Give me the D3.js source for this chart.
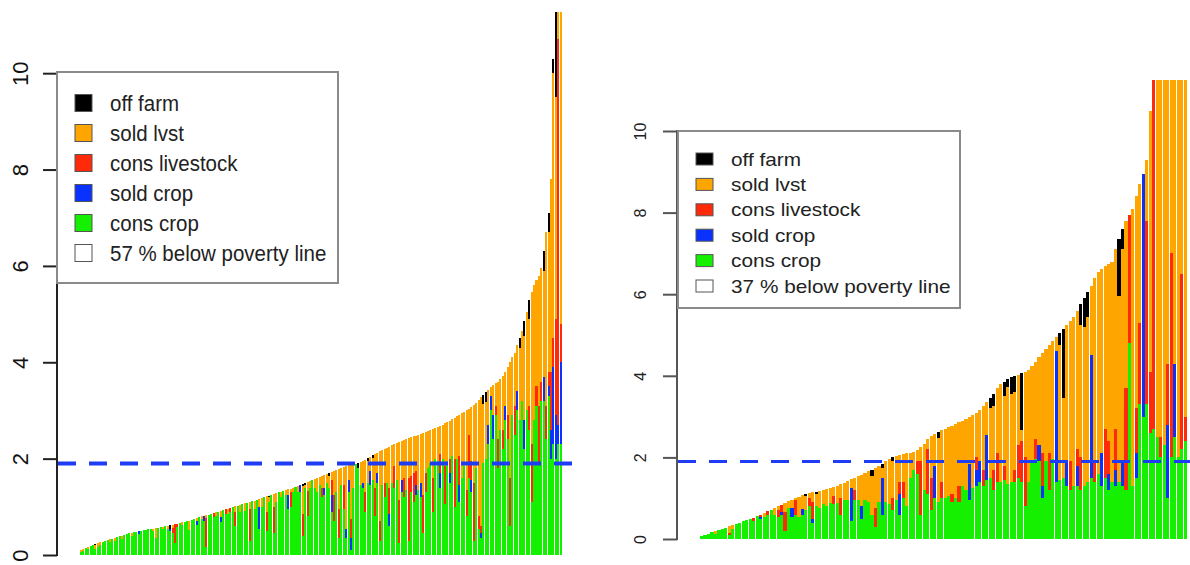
<!DOCTYPE html>
<html>
<head>
<meta charset="utf-8">
<script src="https://cdn.jsdelivr.net/npm/d3@7"></script>
<style>
  body { margin: 0; background: #fff; }
  svg { display: block; font-family: "Liberation Sans", Arial, sans-serif; }
</style>
</head>
<body>
<svg id="chart" width="1190" height="565"></svg>
<script>
// ---- left panel (57 % below poverty line), one value per household, sorted by total
var leftConsCrop = [
  .06,.08,.14,.12,.18,.20,.12,.16,.20,.28, .30,.31,.27,.34,.30,.37,.39,.34,.42,.43,
  .45,.40,.47,.48,.44,.50,.51,.52,.53,.54, .50,.35,.57,.58,.54,.60,.55,.50,.45,.25,
  .58,.66,.62,.69,.70,.52,.73,.74,.62,.78, .74,.70,.17,.84,.86,.78,.80,.90,.68,.93,
  .85,.86,.90,.99,.60,1.02,.90,1.05,.92,1.08, .30,1.12,.95,1.15,.55,1.00,1.20,.50,1.10,1.25,
  .45,1.10,1.30,1.20,1.33,1.25,.95,1.00,1.30,1.42, 1.30,1.30,.40,1.40,.80,1.40,1.56,1.40,1.30,1.45,
  1.20,1.25,1.50,1.40,.90,.70,1.30,.35,1.45,.95, .35,1.30,.10,1.40,1.89,1.80,1.45,1.40,.90,1.50,
  1.45,1.55,.80,1.50,.30,1.45,1.20,1.50,.60,1.50, 1.40,1.55,.25,1.30,1.20,1.35,.30,1.30,1.10,1.25,
  1.35,1.20,.45,1.30,1.80,1.90,.90,2.00,1.95,1.40, 2.00,1.05,1.95,1.50,2.05,1.00,2.00,1.10,1.60,1.85,
  .80,1.60,1.30,.30,1.80,.55,.35,1.90,2.00,2.30, 3.00,2.40,2.90,1.80,2.60,2.20,2.80,2.40,.60,2.90,
  2.50,3.00,2.80,3.20,2.20,3.00,2.60,1.10,2.80,3.10, 1.90,3.20,3.20,2.40,3.30,2.00,2.30,2.00,2.30,2.30
];
var leftSoldCrop = [
  0,0,0,0,0,0,0,0,0,0, 0,0,0,0,0,0,0,0,0,0,
  0,0,0,0,.05,0,0,0,0,0, 0,0,0,0,0,0,0,.05,0,0,
  0,0,0,0,0,0,0,0,.08,0, 0,.11,0,0,0,0,0,0,.10,0,
  0,0,0,0,0,0,0,0,0,0, 0,0,0,0,.45,0,0,0,0,0,
  0,0,0,0,0,0,.30,0,0,0, 0,.16,0,0,0,0,0,0,0,0,
  0,.15,0,0,.35,0,0,0,0,0, .20,.25,.25,0,0,0,0,.10,0,0,
  .30,0,0,.20,0,0,0,0,.25,0, 0,0,0,.25,0,0,0,0,0,.20,
  0,.30,0,0,0,0,0,0,0,.30, 0,0,0,.20,0,0,0,.35,0,0,
  0,0,.25,0,0,0,.10,0,0,.40, .30,.50,0,0,0,0,.30,0,0,0,
  0,.40,0,0,.60,0,0,0,0,0, 0,0,.50,0,.20,.60,1.60,.90,.40,1.70
];
var leftConsLvst = [
  0,0,0,0,0,0,0,0,0,0, 0,0,0,0,0,0,0,0,0,0,
  0,0,0,0,0,0,0,0,0,0, 0,0,0,0,0,0,0,0,.12,.39,
  .07,0,0,0,0,0,0,0,0,0, 0,0,.60,0,0,.09,0,0,0,0,
  .10,0,.08,0,.30,0,0,0,0,0, .65,0,0,0,0,0,0,.40,0,0,
  .55,0,0,0,0,0,0,.30,0,0, 0,0,.45,0,.52,0,0,0,0,0,
  .20,0,0,0,.30,.55,0,.60,0,.50, 0,0,.40,0,0,0,0,0,.40,0,
  0,0,.60,0,.40,0,.30,0,.55,0, .45,0,.90,0,.40,0,1.30,.35,.60,.30,
  0,0,.80,.40,0,0,.70,0,0,.40, 0,.80,0,.30,0,1.00,0,.60,0,0,
  .55,.90,.40,1.20,0,.25,.15,0,0,0, 0,0,.20,.60,0,.40,0,.50,1.00,0,
  .60,0,0,0,0,0,.50,1.20,0,.40, 1.20,.40,0,.70,.30,1.20,.60,2.00,8.00,.80
];
var leftSoldLvst = [
  .04,.04,0,.04,0,0,.08,.08,.06,0, 0,0,.06,0,.06,0,0,.06,0,0,
  0,.06,0,0,0,0,0,0,0,0, .05,.21,0,0,.05,0,.06,0,.06,0,
  0,0,.06,0,0,.19,0,0,.06,0, .06,0,.06,0,0,0,.09,0,.14,0,
  0,.10,0,0,.11,0,.14,0,.15,0, .15,0,.18,0,.17,.18,0,.32,.10,0,
  .27,.18,0,.11,0,.10,.11,.08,.10,0, .14,0,.58,.05,.20,.14,0,.18,.30,.17,
  .24,.26,.18,.25,.17,.49,.46,.83,.35,.37, 1.29,.31,1.12,.48,0,0,.48,.45,.68,.45,
  .29,.46,.70,.42,1.45,.73,.70,.73,.85,.78, .45,.77,1.19,.81,.78,1.05,.82,.79,.76,.73,
  1.15,1.02,1.29,.86,.78,.70,1.02,.64,.71,.58, .70,.88,.81,.79,.77,.85,.88,.86,1.34,1.12,
  1.65,.54,1.13,1.62,1.36,2.42,2.68,1.23,1.18,.73, .18,.62,.46,1.20,1.05,1.12,.70,1.00,2.40,1.20,
  1.10,.95,1.50,1.45,1.75,2.05,1.80,3.15,2.80,2.20, 2.70,2.35,2.20,3.60,2.90,4.00,5.50,4.60,1.80,8.00
];
var leftOffFarm = [
  0,0,0,0,0,0,.02,0,0,0, 0,0,0,0,0,0,0,0,0,0,
  0,0,0,0,0,0,0,0,0,0, 0,0,0,0,0,0,0,.07,0,0,
  0,0,0,0,0,0,0,0,0,0, 0,0,0,0,0,0,0,0,0,0,
  0,0,0,0,0,0,0,0,0,0, 0,0,0,0,0,0,0,0,.03,0,
  0,0,0,0,0,0,0,0,0,0, 0,0,.05,.05,0,0,0,0,0,0,
  0,0,0,.05,0,0,0,0,0,0, 0,0,0,0,0,.11,0,0,0,.06,
  0,.06,0,0,0,0,0,0,0,0, 0,0,0,0,0,0,0,0,0,0,
  0,0,0,0,0,0,0,0,0,0, 0,0,0,0,0,0,0,0,0,0,
  0,0,0,0,0,0,0,.20,.20,0, 0,0,0,0,0,0,0,0,0,0,
  0,0,.20,0,.30,0,.40,0,0,0, 0,0,.40,0,.40,0,.30,2.50,0,0
];

// ---- right panel (37 % below poverty line)
var rightConsCrop = [
  .08,.10,.13,.16,.12,.22,.25,.28,.10,.24, .37,.40,.43,.46,.49,.44,.56,.50,.55,.60,
  .72,.60,.55,.60,.20,.75,.55,.60,.55,.58, .70,.80,.40,.80,.75,.85,.80,.88,.85,.88,
  .60,.95,.95,.45,.95,.95,.50,.95,.90,.60, .30,.90,.60,.90,.85,.70,.95,.60,1.00,.80,
  1.50,1.70,1.60,.60,1.20,1.10,.70,1.00,.90,1.00, 1.00,1.05,.90,1.00,.90,1.30,1.20,.95,1.25,1.30,
  1.40,1.30,1.45,1.50,1.20,1.40,1.40,1.45,1.35,1.40, 1.40,1.50,1.40,.80,1.40,1.90,1.95,1.90,1.00,1.90,
  1.20,1.95,1.40,1.45,1.50,1.30,1.20,1.30,1.30,1.20, 1.30,1.40,1.50,1.40,1.60,1.30,1.50,1.20,1.40,1.30,
  1.40,1.30,1.20,4.80,1.30,1.50,3.30,3.00,3.30,2.60, 2.70,2.50,2.00,2.30,1.00,2.00,2.50,2.00,2.20,2.40
];
var rightSoldCrop = [
  0,0,0,0,0,0,0,0,0,0, 0,0,0,0,0,0,0,.04,0,0,
  0,0,0,.06,0,0,.20,0,0,.15, 0,0,.10,0,0,0,0,0,0,0,
  0,0,0,.80,0,0,.30,0,0,0, 0,0,.90,0,0,0,0,.50,0,0,
  0,0,0,0,0,0,0,.80,0,0, 0,0,0,0,0,0,0,.90,0,.40,
  .50,0,1.10,0,0,0,0,0,0,0, 0,0,0,0,0,0,0,.40,.30,0,
  0,0,3.20,0,0,.60,0,0,.50,0, 0,0,3.00,0,0,.80,0,.40,0,.40,
  0,.60,0,0,0,.60,0,5.95,0,0, 0,0,0,0,1.80,0,1.80,0,0,0
];
var rightConsLvst = [
  0,0,0,0,0,0,0,0,.05,0, 0,0,0,0,0,.08,0,.06,0,.08,
  0,0,.15,.18,.45,0,0,.35,0,0, 0,.20,.40,0,0,0,0,0,.20,0,
  .40,0,0,0,.25,0,0,0,0,0, .45,0,0,0,0,.30,0,.30,.40,0,
  0,0,.30,1.30,0,1.10,.80,0,0,.40, 0,0,.20,0,.40,0,0,0,0,.30,
  0,.40,0,0,.50,.70,0,.35,0,0, .30,.80,1.00,1.20,0,0,.50,0,.80,0,
  .90,0,0,0,0,0,.70,0,.40,.80, 0,0,0,.50,0,0,1.20,.80,0,1.00,
  0,0,2.50,3.15,0,1.10,2.00,0,4.50,1.50, 9.00,0,.50,0,1.50,5.00,0,0,4.30,.60
];
var rightSoldLvst = [
  0,0,0,0,.07,0,0,0,.16,.10, 0,0,0,0,0,0,0,0,.09,0,
  0,.16,.10,0,.23,.17,.21,.05,.49,.35, .35,.12,.24,.30,.43,.35,.42,.37,.23,.43,
  .34,.43,.47,.21,.30,.59,.78,.67,.76,.95, .99,.88,.24,1.00,1.11,.90,1.09,.66,.68,1.30,
  .62,.44,.28,.36,1.14,.24,1.02,.78,1.57,1.26, 1.70,1.69,1.68,1.82,1.56,1.60,1.75,1.15,1.80,1.10,
  1.25,1.55,.80,1.70,1.55,1.60,2.40,1.71,2.37,2.16, 1.90,1.73,.26,2.10,2.75,2.35,1.90,2.15,2.45,2.75,
  2.65,2.90,.35,3.30,1.95,3.35,3.45,4.15,3.40,3.25, 3.90,4.05,1.70,4.50,4.95,4.52,4.00,4.35,5.40,4.40,
  4.55,5.20,4.10,0,6.80,5.20,3.40,0,1.50,6.40, 0,9.50,9.70,10.10,8.30,5.80,8.70,11.20,7.00,11.00
];
var rightOffFarm = [
  0,0,0,0,0,0,0,0,0,0, 0,0,0,0,0,0,0,0,0,0,
  0,0,0,0,0,0,0,0,0,0, .05,0,0,.06,0,0,0,0,0,0,
  0,0,0,0,0,0,0,0,0,.15, 0,0,.10,0,0,.10,0,0,0,0,
  0,0,0,0,0,0,0,0,.15,0, 0,0,0,0,0,0,0,0,0,0,
  0,0,0,.25,.30,0,0,.35,.20,.40, .40,0,1.40,0,0,0,0,0,0,0,
  0,0,0,.30,1.70,0,0,0,0,.50, .70,.60,0,0,0,0,0,0,0,0,
  1.40,.50,0,0,0,0,0,0,0,0, 0,0,0,0,0,0,0,0,0,0
];

var keys = ["consCrop", "soldCrop", "consLvst", "soldLvst", "offFarm"];
var colors = { consCrop: "#14f000", soldCrop: "#0a32ff", consLvst: "#ff2a0a", soldLvst: "#ffa500", offFarm: "#000000" };
var legendLabels = ["off farm", "sold lvst", "cons livestock", "sold crop", "cons crop"];
var legendKeys = ["offFarm", "soldLvst", "consLvst", "soldCrop", "consCrop"];
var yTicks = [0, 2, 4, 6, 8, 10];
var povertyLine = 1.9;

var svg = d3.select("#chart");

function drawPanel(p) {
  var n = p.data.consCrop.length;
  var rows = d3.range(n).map(function(i) {
    var r = {};
    keys.forEach(function(k) { r[k] = p.data[k][i]; });
    return r;
  });
  var series = d3.stack().keys(keys)(rows);

  var x = d3.scaleBand().domain(d3.range(n)).range([p.x0, p.x1]);
  var y = d3.scaleLinear().domain([0, p.yMax]).range([p.y0, p.yTop]);

  var g = svg.append("g");

  g.append("clipPath").attr("id", p.id + "-clip")
    .append("rect")
    .attr("x", p.x0 - 2).attr("y", p.yTop)
    .attr("width", p.x1 - p.x0 + 4).attr("height", p.y0 - p.yTop + 2);

  // stacked bars (R barplot leaves a thin white space between bars)
  g.append("g").attr("clip-path", "url(#" + p.id + "-clip)")
    .selectAll("g").data(series).join("g")
    .attr("fill", function(d) { return colors[d.key]; })
    .selectAll("rect").data(function(d) { return d; }).join("rect")
    .attr("x", function(d, i) { return x(i); })
    .attr("width", x.bandwidth() - p.gap)
    .attr("y", function(d) { return y(d[1]); })
    .attr("height", function(d) { return y(d[0]) - y(d[1]); })
    .attr("shape-rendering", "crispEdges");

  // poverty line
  g.append("line")
    .attr("x1", p.axisX + 1).attr("x2", p.lineEnd)
    .attr("y1", y(povertyLine)).attr("y2", y(povertyLine))
    .attr("stroke", "#1e3cf5").attr("stroke-width", p.lineW)
    .attr("stroke-dasharray", "18,13");

  // y axis, R style: the line only runs from the first to the last tick
  var axis = d3.axisLeft(y).tickValues(yTicks).tickSize(14).tickSizeOuter(0).tickFormat(d3.format("d"));
  var ag = g.append("g").attr("transform", "translate(" + p.axisX + ",0)").call(axis);
  ag.select(".domain").remove();
  ag.selectAll(".tick line").attr("stroke", p.axisColor).attr("stroke-width", 2);
  ag.selectAll(".tick text")
    .attr("x", null).attr("dy", null)
    .attr("text-anchor", "middle")
    .attr("fill", p.tickColor)
    .attr("font-size", p.tickFont)
    .attr("font-family", "'Liberation Sans', Arial, sans-serif")
    .attr("transform", "translate(" + (p.labelX - p.axisX) + ",0) rotate(-90)");
  g.append("line")
    .attr("x1", p.axisX).attr("x2", p.axisX)
    .attr("y1", y(0) + 1).attr("y2", y(10) - 1)
    .attr("stroke", p.axisColor).attr("stroke-width", 2);

  // legend
  var lg = g.append("g");
  lg.append("rect")
    .attr("x", p.legend.x).attr("y", p.legend.y)
    .attr("width", p.legend.w).attr("height", p.legend.h)
    .attr("fill", "#fff").attr("stroke", "#8a8a8a").attr("stroke-width", 2);
  var items = legendKeys.map(function(k, i) {
    return { color: colors[k], label: legendLabels[i] };
  });
  items.push({ color: "#fff", label: p.belowPct + " % below poverty line" });
  items.forEach(function(it, i) {
    var cy = p.legend.row0 + i * p.legend.step;
    lg.append("rect")
      .attr("x", p.legend.x + 18).attr("y", cy - p.legend.sq / 2)
      .attr("width", 17).attr("height", p.legend.sq)
      .attr("fill", it.color).attr("stroke", "#555").attr("stroke-width", 1);
    lg.append("text")
      .attr("transform", "translate(" + (p.legend.x + 53) + "," + cy + ") scale(1," + p.legend.sy + ")")
      .attr("dy", "0.36em")
      .attr("font-size", p.legend.font)
      .attr("fill", "#222")
      .text(it.label);
  });
}

drawPanel({
  id: "left",
  data: { consCrop: leftConsCrop, soldCrop: leftSoldCrop, consLvst: leftConsLvst, soldLvst: leftSoldLvst, offFarm: leftOffFarm },
  x0: 80, x1: 562, y0: 555, yTop: 12, yMax: 11.27, gap: 0.4,
  axisX: 57, labelX: 28, tickFont: 22, tickColor: "#111", axisColor: "#222",
  lineEnd: 575, lineW: 4, belowPct: 57,
  legend: { x: 57, y: 72, w: 281, h: 211, row0: 103, step: 30, sq: 17, font: 20.5, sy: 1.05 }
});

drawPanel({
  id: "right",
  data: { consCrop: rightConsCrop, soldCrop: rightSoldCrop, consLvst: rightConsLvst, soldLvst: rightSoldLvst, offFarm: rightOffFarm },
  x0: 700, x1: 1187, y0: 539, yTop: 80, yMax: 11.25, gap: 0.35,
  axisX: 677, labelX: 646, tickFont: 16, tickColor: "#222", axisColor: "#555",
  lineEnd: 1190, lineW: 3, belowPct: 37,
  legend: { x: 678, y: 131, w: 282, h: 177, row0: 159, step: 25.4, sq: 12, font: 20.8, sy: 0.88 }
});
</script>
</body>
</html>
